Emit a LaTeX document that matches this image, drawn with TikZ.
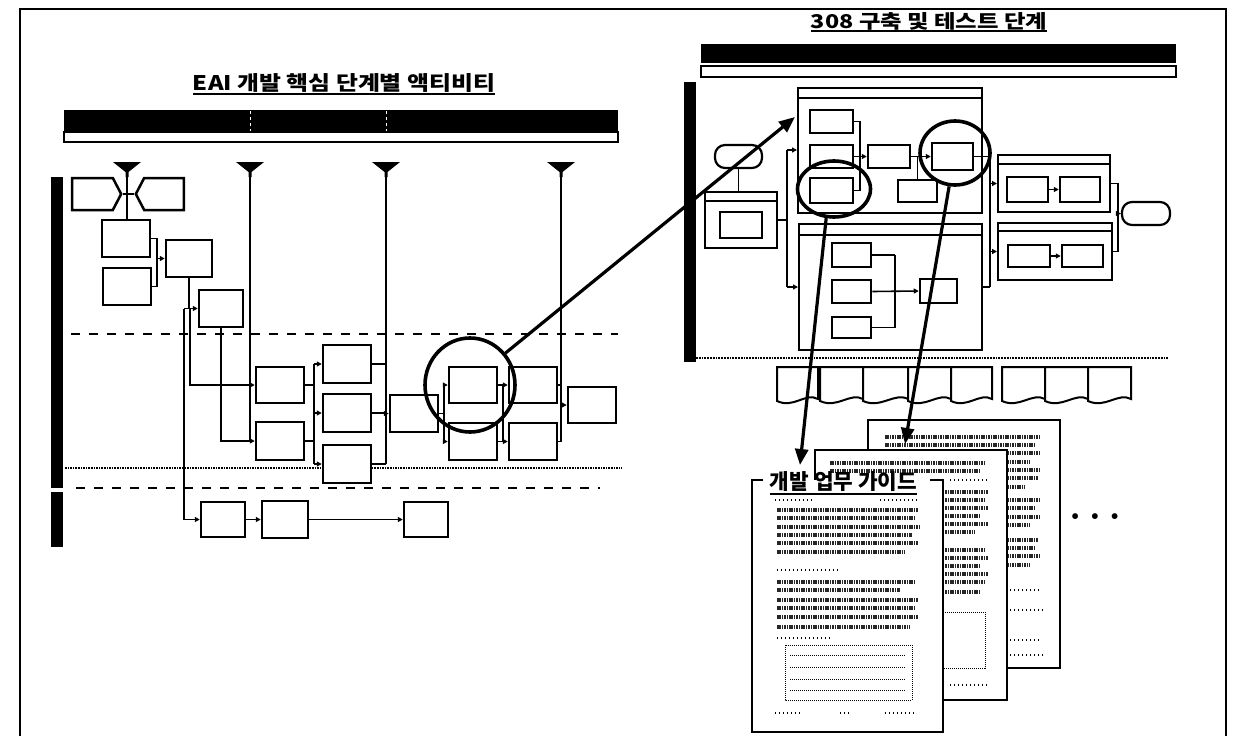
\documentclass[tikz,border=0pt]{standalone}
\usepackage{fontspec}
\newfontfamily\kr{Noto Sans CJK KR}
\usetikzlibrary{shapes.symbols,shapes.geometric,arrows.meta}
\newcommand\bxn[6][]{\node[bx,minimum width={#5-#3},minimum height={#6-#4},#1] (#2) at ({(#3+#5)/2},{(#4+#6)/2}) {};}
\begin{document}
\begin{tikzpicture}[x=1pt,y=-1pt,
  bx/.style={draw,line width=2.5pt,inner sep=0pt,fill=white},
  grp/.style={draw,line width=2pt,inner sep=0pt,fill=none},
  ln/.style={line width=1.6pt},
  la/.style={line width=1.6pt,-{Triangle[length=5pt,width=5pt]}},
  big/.style={line width=3.2pt,-{Triangle[length=16pt,width=13pt]}},
  scrib/.style={line width=4.5pt,dash pattern=on 1.5pt off 0.9pt,black!85},
  spars/.style={line width=1.2pt,dash pattern=on 1pt off 3pt},
  ring/.style={draw,ellipse,line width=3.6pt,inner sep=0pt},
  doc/.style={draw,line width=2.5pt,fill=white},
  stad/.style={draw,line width=2.2pt,rounded corners=10pt,inner sep=0pt},
]
\useasboundingbox (0,0) rectangle (1234,736);
\fill[white] (0,0) rectangle (1234,736);
% outer frame
\draw[line width=1.8pt] (20,745) -- (20,9) -- (1226,9) -- (1226,745);

%================ LEFT DIAGRAM =================
\node[inner sep=0pt] (ltitle) at (344,83) {\resizebox{302pt}{17pt}{\kr\bfseries EAI 개발 핵심 단계별 액티비티}};
\draw[line width=2pt] (193,94) -- (495,94);
% header bars
\fill (64,110) rectangle (618,132);
\draw[white,line width=1pt,dashed] (250,111) -- (250,131) (386,111) -- (386,131);
\draw[line width=2.2pt] (64,132) rectangle (618,142);
% lane bar
\fill (51,177) rectangle (63,488);
\fill (51,492) rectangle (63,547);
% lane separators
\draw[line width=1.8pt,dash pattern=on 9pt off 9pt] (71,334) -- (618,334);
\draw[line width=1.6pt,densely dotted] (65,468) -- (622,468);
\draw[line width=1.8pt,dash pattern=on 9pt off 9pt] (76,488) -- (600,488);
% funnels
\foreach \fx/\nm in {127/f1,250/f2,386/f3,561/f4}{
  \fill (\fx-14,162) -- (\fx+14,162) -- (\fx+1.5,172) -- (\fx+1.5,177) -- (\fx-1.5,177) -- (\fx-1.5,172) -- cycle;
  \coordinate (\nm) at (\fx,177);
}
% boxes
\node[draw,line width=2.5pt,signal,signal to=east,signal pointer angle=125,minimum width=49,minimum height=32,inner sep=0pt] (h1) at (92.5,194) {};
\node[draw,line width=2.5pt,signal,signal to=west,signal pointer angle=125,minimum width=48,minimum height=32,inner sep=0pt] (h2) at (164,194) {};
\bxn{b3}{102}{220}{150}{257}
\bxn{b4}{103}{268}{151}{305}
\bxn{b5}{166}{240}{212}{277}
\bxn{b6}{199}{290}{243}{327}
\bxn{b7}{256}{367}{304}{403}
\bxn{b8}{256}{422}{304}{460}
\bxn{b9}{323}{345}{371}{383}
\bxn{b10}{323}{394}{371}{432}
\bxn{b11}{323}{445}{371}{483}
\bxn{b12}{390}{395}{438}{432}
\bxn{b13}{449}{367}{497}{403}
\bxn{b14}{449}{423}{497}{460}
\bxn{b15}{509}{367}{557}{403}
\bxn{b16}{509}{423}{557}{460}
\bxn{b17}{568}{387}{616}{423}
\bxn{b18}{201}{502}{245}{537}
\bxn{b19}{262}{501}{308}{538}
\bxn{b20}{404}{502}{448}{537}
% connectors
\draw[ln] (f1) -- (f1 |- b3.north);
\draw[ln] (h1.east) -- (h2.west);
\coordinate (k1) at (157,258.5);
\draw[ln] (b3.east) -| (k1) (b4.east) -| (k1);
\draw[la] (k1) -- (b5.west);
\coordinate (k2) at (184,308.5);
\draw[ln] (b5.south) -- (b5.south |- b6.west);
\draw[la] (k2) -- (b6.west);
\draw[la] (k2) |- (b18.west);
\coordinate (k3) at (190,308.5);
\draw[la] (k3) |- (b7.west);
\draw[la] (b6.south) |- (b8.west);
\draw[ln] (f2) -- (f2 |- b8.west);
\coordinate (k4) at (314,364);
\coordinate (k5) at (314,464);
\draw[ln] (b7.east) -- (b7.east -| k4) (b8.east) -- (b8.east -| k4) (k4) -- (k5);
\draw[la] (k4) -- (b9.west);
\draw[la] (k4 |- b10.west) -- (b10.west);
\draw[la] (k5) -- (b11.west);
\draw[ln] (f3) -- (f3 |- b11.east);
\draw[ln] (b9.east) -- (b9.east -| f3) (b10.east) -- (b10.east -| f3) (b11.east) -- (b11.east -| f3);
\draw[la] (f3 |- b12.west) -- (b12.west);
\coordinate (k6) at (444,385);
\coordinate (k7) at (444,441.5);
\draw[ln] (b12.east) -- (b12.east -| k6) (k6) -- (k7);
\draw[la] (k6) -- (b13.west);
\draw[la] (k7) -- (b14.west);
\coordinate (k8) at (503,385);
\coordinate (k9) at (503,441.5);
\draw[ln] (b13.east) -- (k8) (b14.east) -- (k9) (k8) -- (k9);
\draw[la] (k8) -- (b15.west);
\draw[la] (k9) -- (b16.west);
\draw[ln] (f4) -- (f4 |- b16.east);
\draw[ln] (b15.east) -- (b15.east -| f4) (b16.east) -- (b16.east -| f4);
\draw[la] (f4 |- b17.west) -- (b17.west);
\draw[la] (b18.east) -- (b19.west);
\draw[la] (b19.east) -- (b20.west);
% circle
\node[ring,minimum width=90,minimum height=94] (c1) at (470,385) {};

%================ RIGHT DIAGRAM =================
\node[inner sep=0pt] (rtitle) at (929,21) {\resizebox{236pt}{16pt}{\kr\bfseries 308 구축 및 테스트 단계}};
\draw[line width=2pt] (811,31) -- (1047,31);
\fill (701,44) rectangle (1176,63);
\draw[line width=2.2pt] (701,66) rectangle (1176,77);
\fill (684,82) rectangle (696,362);
\draw[line width=1.8pt,densely dotted] (696,358) -- (1168,358);
% groups
\bxn[grp]{g1}{798}{88}{982}{213}
\draw[line width=1.6pt] (798,98) -- (982,98);
\bxn[grp]{g2}{799}{224}{982}{350}
\draw[line width=1.6pt] (799,235) -- (982,235);
\bxn[grp]{g3}{998}{155}{1110}{212}
\draw[line width=1.6pt] (998,164) -- (1110,164);
\bxn[grp]{g4}{998}{223}{1112}{280}
\draw[line width=1.6pt] (998,231) -- (1112,231);
\bxn[grp]{g5}{705}{192}{777}{248}
\draw[line width=1.6pt] (705,201) -- (777,201);
% inner boxes
\bxn{a1}{810}{110}{853}{133}
\bxn{a2}{810}{145}{853}{168}
\bxn{a3}{810}{178}{853}{203}
\bxn{a4}{868}{145}{910}{168}
\bxn{a5}{932}{143}{973}{170}
\bxn{a6}{898}{180}{937}{202}
\bxn{e1}{832}{243}{871}{267}
\bxn{e2}{832}{280}{871}{303}
\bxn{e3}{832}{317}{871}{338}
\bxn{e4}{920}{279}{957}{303}
\bxn{d1}{1007}{177}{1048}{202}
\bxn{d2}{1060}{177}{1100}{202}
\bxn{d3}{1008}{245}{1050}{267}
\bxn{d4}{1062}{245}{1103}{267}
\bxn{s1}{720}{212}{762}{238}
\node[stad,minimum width=47,minimum height=23] (st) at (738.5,156.5) {};
\node[stad,minimum width=48,minimum height=23] (en) at (1146,213.5) {};
% right connectors
\draw[ln] (st.south) -- (st.south |- g5.north);
\coordinate (m1) at (787,150);
\coordinate (m2) at (787,287);
\draw[ln] (g5.east) -- (g5.east -| m1) (m1) -- (m2);
\draw[la] (m1) -- (m1 -| g1.west);
\draw[la] (m2) -- (m2 -| g2.west);
\coordinate (m3) at (860,121.5);
\coordinate (m4) at (860,190.5);
\draw[ln] (a1.east) -- (m3) -- (m4) -- (a3.east);
\draw[la] (a2.east) -- (a4.west);
\draw[la] (a4.east) -- (a5.west);
\draw[ln] (a6.north) -- (a6.north |- a4.east);
\coordinate (m5) at (990,156.5);
\coordinate (m6) at (990,287);
\draw[ln] (a5.east) -- (m5) (m2 -| g2.east) -- (m6) (m5) -- (m6);
\draw[la] (m5 |- g3.west) -- (g3.west);
\draw[la] (m5 |- g4.west) -- (g4.west);
\draw[la] (d1.east) -- (d2.west);
\draw[la] (d3.east) -- (d4.west);
\coordinate (m7) at (1118,183.5);
\coordinate (m8) at (1118,251.5);
\draw[ln] (g3.east) -- (m7) -- (m8) -- (g4.east);
\draw[la] (m7 |- en.west) -- (en.west);
\coordinate (m9) at (895,255);
\coordinate (m10) at (895,327.5);
\draw[ln] (e1.east) -- (e1.east -| m9) (m9) -- (m10) -- (e3.east);
\draw[la] (e2.east) -- (e4.west);
% document icons row
\foreach \xa/\xb/\nm in {777/818/i1,820/863/i2,863/908/i3,908/951/i4,951/992/i5,1002/1045/i6,1045/1088/i7,1088/1131/i8}{
  \draw[line width=2pt,fill=white] (\xa,367) -- (\xb,367) -- (\xb,399) .. controls ({\xb-0.3*(\xb-\xa)},392) and ({\xa+0.4*(\xb-\xa)},409) .. (\xa,401) -- cycle;
  \coordinate (\nm) at ({(\xa+\xb)/2},383);
}
% circles
\node[ring,minimum width=73,minimum height=56] (c2) at (834,189) {};
\node[ring,minimum width=70,minimum height=64] (c3) at (955,153) {};

%================ DOCUMENTS =================
\node[doc,minimum width=192,minimum height=248,inner sep=0pt] (pb) at (964,544) {};
\foreach \yy/\xe in {437/1040,445/1035,453/1040,462/1030,470/1040,478/1038,487/1025,500/1040,508/1035,517/1040,525/1030,540/1038,548/1036,556/1040,565/1030}{
  \draw[scrib] (885,\yy) -- (\xe,\yy);}
\draw[spars] (1010,590) -- (1040,590) (1010,610) -- (1045,610) (1010,640) -- (1040,640) (1010,655) -- (1045,655);
\node[doc,minimum width=192,minimum height=250,inner sep=0pt] (pm) at (911,575) {};
\foreach \yy/\xe in {463/985,471/980,492/988,500/985,508/988,516/980,524/988,532/975,550/985,558/988,566/980,574/988,582/985,592/980}{
  \draw[scrib] (830,\yy) -- (\xe,\yy);}
\draw[densely dotted,line width=1pt] (840,612) rectangle (985,668);
\draw[spars] (950,685) -- (990,685) (950,480) -- (990,480);
% front document
\fill[white] (752,480) rectangle (943,732);
\draw[line width=2.5pt] (763,480) -- (752,480) -- (752,732) -- (943,732) -- (943,480) -- (930,480);
\node[inner sep=0pt] (gtitle) at (843.5,482) {\resizebox{147pt}{18pt}{\kr\bfseries 개발 업무 가이드}};
\draw[line width=2pt] (770,494) -- (917,494);
\draw[spars] (775,500) -- (815,500) (880,500) -- (918,500);
\foreach \yy/\xe in {510/918,518/915,527/920,535/912,543/918,552/905}{
  \draw[scrib] (777,\yy) -- (\xe,\yy);}
\draw[spars] (777,570) -- (840,570);
\foreach \yy/\xe in {582/915,590/900,600/918,608/916,617/918,627/910}{
  \draw[scrib] (777,\yy) -- (\xe,\yy);}
\draw[spars] (777,638) -- (830,638);
\draw[densely dotted,line width=1pt] (785,645) rectangle (912,700);
\foreach \yy in {655,667,679,690}{\draw[densely dotted,line width=1pt] (790,\yy) -- (905,\yy);}
\draw[spars] (775,713) -- (800,713) (840,713) -- (850,713) (885,713) -- (915,713);
\node[inner sep=0pt,font=\fontsize{26}{26}\selectfont] (dots) at (1095,519) {\textbullet\hspace{1pt}\textbullet\hspace{1pt}\textbullet};

%================ BIG ARROWS =================
\coordinate (tg) at (795,117);
\draw[big] (c1.42) -- (tg);
\coordinate (dA) at (800,465);
\coordinate (dB) at (905,444);
\draw[big] (c2.-105) -- (dA);
\draw[big] (c3.-100) -- (dB);
\end{tikzpicture}
\end{document}
